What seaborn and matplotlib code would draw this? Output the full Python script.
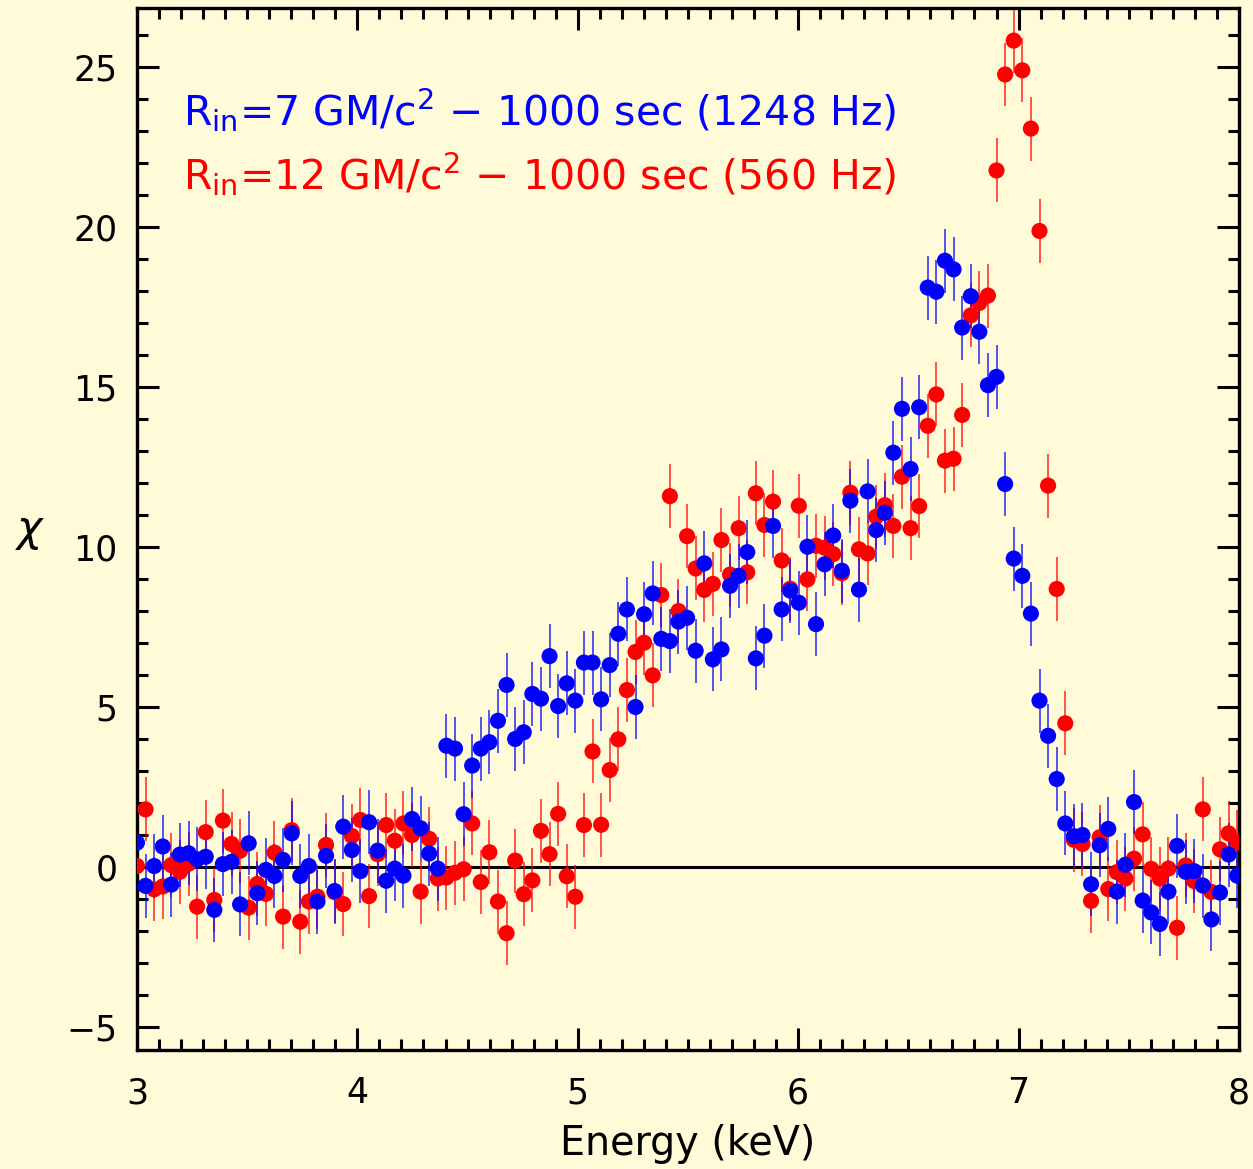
import numpy as np
import pandas as pd
import matplotlib
matplotlib.use("Agg")
import matplotlib.pyplot as plt
from matplotlib.ticker import MultipleLocator
import seaborn as sns

# ---- data -------------------------------------------------------------
n_bins = 129
e_start = 3.0
bin_width = 0.039
energy = np.round(e_start + bin_width * np.arange(n_bins), 4)

chi_r7 = [0.76, -0.59, 0.03, 0.64, -0.55, 0.39, 0.43, 0.24, 0.32, -1.34,
          0.09, 0.16, -1.17, 0.74, -0.82, -0.09, -0.28, 0.22, 1.05, -0.28,
          0.03, -1.08, 0.35, -0.75, 1.26, 0.53, -0.13, 1.40, 0.51, -0.43,
          -0.05, -0.27, 1.50, 1.21, 0.42, -0.05, 3.79, 3.70, 1.65, 3.17,
          3.70, 3.90, 4.57, 5.69, 4.00, 4.21, 5.41, 5.26, 6.59, 5.03,
          5.74, 5.20, 6.39, 6.39, 5.24, 6.31, 7.29, 8.05, 5.00, 7.90,
          8.55, 7.13, 7.06, 7.67, 7.79, 6.76, 9.49, 6.49, 6.80, 8.79,
          9.10, 9.84, 6.52, 7.23, 10.66, 8.05, 8.64, 8.26, 10.01, 7.59,
          9.46, 10.36, 9.26, 11.45, 8.67, 11.74, 10.53, 11.07, 12.95, 14.32,
          12.44, 14.37, 18.11, 17.98, 18.95, 18.68, 16.86, 17.84, 16.73, 15.06,
          15.32, 11.97, 9.64, 9.10, 7.92, 5.20, 4.10, 2.75, 1.36, 0.96,
          1.00, -0.54, 0.68, 1.19, -0.77, 0.07, 2.03, -1.05, -1.42, -1.78,
          -0.77, 0.66, -0.15, -0.13, -0.58, -1.64, -0.80, 0.39, -0.27]

chi_r12 = [0.03, 1.80, -0.70, -0.61, 0.06, -0.15, 0.10, -1.24, 1.09, -1.03,
           1.45, 0.72, 0.51, -1.27, -0.53, -0.84, 0.45, -1.55, 1.15, -1.71,
           -1.08, -0.93, 0.69, -0.79, -1.16, 0.97, 1.47, -0.91, 0.40, 1.31,
           0.82, 1.36, 1.00, -0.77, 0.88, -0.36, -0.33, -0.18, -0.07, 1.36,
           -0.47, 0.46, -1.08, -2.07, 0.20, -0.85, -0.42, 1.13, 0.40, 1.66,
           -0.29, -0.93, 1.31, 3.61, 1.32, 3.03, 3.99, 5.53, 6.72, 7.01,
           5.99, 8.50, 11.59, 8.00, 10.34, 9.33, 8.66, 8.85, 10.22, 9.14,
           10.59, 9.21, 11.68, 10.69, 11.42, 9.58, 8.70, 11.29, 8.99, 10.04,
           9.98, 9.78, 9.18, 11.70, 9.93, 9.80, 10.95, 11.31, 10.66, 12.20,
           10.59, 11.28, 13.79, 14.77, 12.70, 12.76, 14.13, 17.24, 17.63, 17.86,
           21.77, 24.77, 25.83, 24.90, 23.08, 19.88, 11.92, 8.69, 4.49, 0.85,
           0.72, -1.06, 0.93, -0.69, -0.16, -0.36, 0.26, 1.02, -0.06, -0.36,
           -0.05, -1.90, 0.05, -0.44, 1.80, -0.78, 0.55, 1.05, 0.77]

chi_err = 1.0

labels = [r"R$_{\mathregular{in}}$=7 GM/c$^{\mathregular{2}}$ $-$ 1000 sec (1248 Hz)",
          r"R$_{\mathregular{in}}$=12 GM/c$^{\mathregular{2}}$ $-$ 1000 sec (560 Hz)"]
colors = ["#0000ff", "#ff0000"]

# ---- figure -----------------------------------------------------------
bg = "#fffad7"
plt.rcParams["font.family"] = ["DejaVu Sans"]
plt.rcParams["mathtext.fontset"] = "dejavusans"

fig = plt.figure(figsize=(12.53, 11.69), dpi=100, facecolor=bg)
ax = fig.add_axes([0.1093, 0.1018, 0.8795, 0.8914])
ax.set_facecolor(bg)

ax.axhline(0, color="black", lw=2.2, zorder=1)

df12 = pd.DataFrame({"energy": energy, "chi": chi_r12})
df7 = pd.DataFrame({"energy": energy, "chi": chi_r7})

for df, col in [(df12, colors[1]), (df7, colors[0])]:
    ax.errorbar(df["energy"], df["chi"], yerr=chi_err, fmt="none",
                ecolor=col, elinewidth=1.1, alpha=0.85, zorder=2)
    sns.scatterplot(data=df, x="energy", y="chi", color=col, s=135,
                    linewidth=0, edgecolor="none", ax=ax, zorder=3)

ax.set_xlim(3, 8)
ax.set_ylim(-5.72, 26.85)

ax.xaxis.set_major_locator(MultipleLocator(1))
ax.xaxis.set_minor_locator(MultipleLocator(0.1))
ax.yaxis.set_major_locator(MultipleLocator(5))
ax.yaxis.set_minor_locator(MultipleLocator(1))
ax.tick_params(which="both", direction="in", top=True, right=True,
               width=2.2, colors="black")
ax.tick_params(which="major", length=16, labelsize=25, pad=14)
ax.tick_params(axis="x", which="major", pad=19)
ax.tick_params(which="minor", length=8)
for sp in ax.spines.values():
    sp.set_linewidth(2.4)
    sp.set_color("black")

ax.set_xlabel("Energy (keV)", fontsize=28.5, labelpad=10)
ax.set_ylabel(r"$\chi$", fontsize=31, rotation=0)
ax.yaxis.set_label_coords(-0.097, 0.478)

ax.text(3.209, 23.19, labels[0], color=colors[0], fontsize=29.5,
        ha="left", va="baseline")
ax.text(3.209, 21.19, labels[1], color=colors[1], fontsize=29.5,
        ha="left", va="baseline")

fig.savefig("out.png", dpi=100, facecolor=bg)
